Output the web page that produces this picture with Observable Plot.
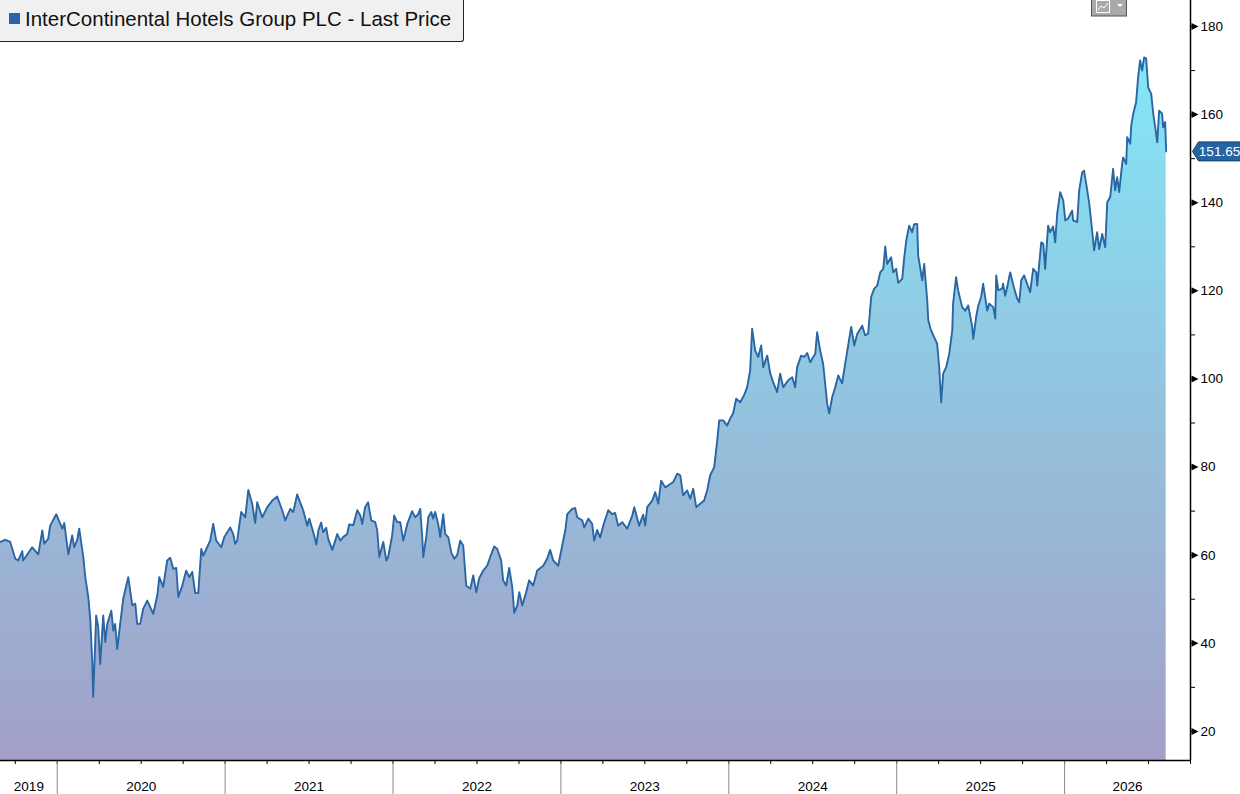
<!DOCTYPE html>
<html><head><meta charset="utf-8">
<script src="https://cdn.jsdelivr.net/npm/d3@7"></script>
<script src="https://cdn.jsdelivr.net/npm/@observablehq/plot@0.6"></script>
<style>
html,body{margin:0;padding:0;background:#fff;}
#wrap{position:relative;width:1240px;height:794px;overflow:hidden;}
#legend{position:absolute;left:0;top:0;width:464px;height:42px;box-sizing:border-box;background:#f0f0f0;border-right:1px solid #222;border-bottom:1px solid #222;border-bottom-right-radius:3px;}
#legend .sw{position:absolute;left:9px;top:13px;width:11px;height:11px;background:#2b64a6;}
#legend .tx{position:absolute;left:25px;top:9px;font-family:"Liberation Sans",Arial,sans-serif;font-size:20.5px;line-height:20.5px;color:#111;white-space:nowrap;}
#btn{position:absolute;left:1091px;top:-1px;}
</style></head><body>
<div id="wrap"></div>
<script>
// ---- data (decimal year, last price) ----
const dates = [
2019.661,2019.690,2019.720,2019.750,2019.768,2019.792,2019.797,2019.851,2019.887,2019.911,2019.923,2019.946,2019.958,2019.994,
2020.030,2020.042,2020.066,2020.089,2020.101,2020.119,2020.131,2020.155,2020.167,2020.185,2020.197,2020.208,2020.214,2020.232,
2020.244,2020.256,2020.274,2020.286,2020.298,2020.322,2020.334,2020.345,2020.357,2020.375,2020.393,2020.423,2020.447,2020.465,
2020.476,2020.494,2020.512,2020.536,2020.554,2020.572,2020.596,2020.608,2020.631,2020.655,2020.673,2020.691,2020.709,2020.721,
2020.745,2020.768,2020.786,2020.804,2020.822,2020.840,2020.858,2020.870,2020.893,2020.911,2020.929,2020.947,2020.977,2020.995,
2021.030,2021.048,2021.060,2021.072,2021.084,2021.096,2021.120,2021.138,2021.161,2021.179,2021.191,2021.221,2021.251,2021.281,
2021.310,2021.340,2021.358,2021.388,2021.406,2021.429,2021.447,2021.465,2021.489,2021.501,2021.525,2021.543,2021.555,2021.572,
2021.584,2021.602,2021.614,2021.638,2021.656,2021.668,2021.686,2021.703,2021.727,2021.739,2021.763,2021.787,2021.805,2021.817,
2021.834,2021.852,2021.870,2021.894,2021.906,2021.918,2021.942,2021.960,2021.971,2021.995,2022.007,2022.025,2022.043,2022.061,
2022.085,2022.114,2022.132,2022.150,2022.162,2022.174,2022.180,2022.198,2022.210,2022.228,2022.239,2022.251,2022.269,2022.281,
2022.299,2022.311,2022.329,2022.347,2022.365,2022.382,2022.400,2022.418,2022.436,2022.460,2022.478,2022.496,2022.513,2022.537,
2022.561,2022.579,2022.603,2022.621,2022.644,2022.656,2022.674,2022.692,2022.710,2022.722,2022.740,2022.752,2022.770,2022.793,
2022.811,2022.835,2022.859,2022.895,2022.918,2022.936,2022.954,2022.984,2023.008,2023.026,2023.038,2023.067,2023.085,2023.097,
2023.127,2023.139,2023.163,2023.186,2023.198,2023.216,2023.234,2023.252,2023.282,2023.306,2023.323,2023.341,2023.365,2023.395,
2023.425,2023.437,2023.466,2023.490,2023.502,2023.514,2023.544,2023.562,2023.580,2023.597,2023.621,2023.639,2023.669,2023.693,
2023.711,2023.728,2023.752,2023.770,2023.788,2023.806,2023.830,2023.853,2023.871,2023.889,2023.913,2023.931,2023.943,2023.967,
2023.990,2024.008,2024.026,2024.044,2024.068,2024.091,2024.109,2024.127,2024.139,2024.157,2024.175,2024.193,2024.205,2024.229,
2024.247,2024.264,2024.288,2024.306,2024.324,2024.354,2024.378,2024.395,2024.407,2024.431,2024.449,2024.467,2024.485,2024.503,
2024.515,2024.526,2024.544,2024.562,2024.586,2024.598,2024.616,2024.634,2024.652,2024.675,2024.693,2024.711,2024.729,2024.747,
2024.765,2024.795,2024.812,2024.830,2024.848,2024.866,2024.884,2024.902,2024.920,2024.932,2024.943,2024.967,2024.979,2024.997,
2025.009,2025.033,2025.045,2025.057,2025.074,2025.092,2025.104,2025.122,2025.128,2025.152,2025.164,2025.182,2025.188,2025.205,
2025.223,2025.241,2025.253,2025.265,2025.277,2025.295,2025.313,2025.331,2025.336,2025.354,2025.366,2025.390,2025.408,2025.426,
2025.450,2025.456,2025.473,2025.485,2025.503,2025.515,2025.539,2025.551,2025.575,2025.587,2025.593,2025.605,2025.628,2025.634,
2025.646,2025.658,2025.676,2025.700,2025.718,2025.730,2025.742,2025.759,2025.777,2025.795,2025.813,2025.831,2025.837,2025.861,
2025.873,2025.884,2025.902,2025.914,2025.932,2025.944,2025.956,2025.974,2025.992,2026.004,2026.021,2026.045,2026.051,2026.075,
2026.087,2026.105,2026.116,2026.135,2026.147,2026.164,2026.176,2026.194,2026.206,2026.224,2026.242,2026.254,2026.272,2026.289,
2026.301,2026.313,2026.325,2026.343,2026.349,2026.367,2026.373,2026.391,2026.397,2026.409,2026.426,2026.438,2026.450,2026.462,
2026.474,2026.486,2026.498,2026.516,2026.528,2026.540,2026.552,2026.563,2026.581,2026.587,2026.599,2026.605
];
const prices = [
63.0,63.5,63.0,59.2,58.8,60.9,58.8,61.8,60.2,65.6,62.6,63.7,66.7,69.3,
66.0,67.3,60.2,64.5,61.8,63.5,66.0,59.6,55.0,50.5,45.2,36.1,27.8,46.3,
43.7,35.3,46.3,40.3,44.4,47.4,42.9,44.4,38.7,44.4,50.1,55.0,48.6,49.0,
44.4,44.4,47.8,49.7,48.2,46.7,50.9,55.0,52.8,58.8,59.4,56.9,57.1,50.5,
53.1,56.5,55.0,56.2,51.4,51.4,61.4,59.9,61.8,63.3,67.1,63.3,61.8,64.1,
66.3,64.8,62.6,63.3,66.7,69.8,68.6,74.8,71.7,67.3,72.0,68.6,70.9,72.4,
73.3,70.2,67.9,70.5,69.8,73.8,72.0,70.2,66.7,68.3,65.2,62.4,65.6,67.4,
65.2,66.2,63.7,61.2,63.3,64.8,63.3,64.1,64.8,67.0,66.8,70.2,69.0,67.1,
70.9,72.0,67.9,67.5,65.6,59.6,63.0,58.8,59.6,64.5,69.0,67.5,67.5,63.3,
67.1,70.0,68.6,69.3,70.5,64.1,59.6,64.1,68.6,69.8,68.3,69.8,67.1,64.1,
69.3,64.8,64.1,60.6,59.2,60.0,63.3,62.2,53.1,52.4,55.4,51.6,54.7,56.5,
57.6,59.6,62.0,61.4,58.8,54.3,53.1,57.1,52.8,46.9,48.6,51.6,48.6,51.6,
54.3,53.1,56.5,57.6,59.2,61.2,58.8,57.6,62.2,65.6,69.3,70.5,70.7,68.6,
67.9,66.3,68.3,67.1,63.3,65.7,64.0,66.7,70.2,69.3,69.6,66.7,67.5,66.0,
69.0,70.9,66.7,69.2,66.7,70.9,72.4,74.3,71.7,76.9,75.4,75.8,76.6,78.5,
78.1,73.6,74.7,72.8,75.1,70.9,71.7,72.4,74.7,78.1,80.0,86.0,90.6,90.6,
89.4,91.0,92.2,95.5,94.7,96.3,98.1,101.9,111.4,106.5,105.0,107.6,102.7,105.3,
101.2,99.3,97.0,101.2,98.1,99.7,100.4,98.1,102.7,105.3,105.0,105.9,103.8,105.0,
105.7,110.6,106.5,103.4,94.4,92.2,95.9,98.1,100.8,99.0,103.4,107.6,111.8,107.6,
110.2,112.1,109.9,110.3,118.6,120.5,121.2,124.2,125.0,130.1,126.1,127.6,124.2,125.0,
121.8,122.7,127.6,131.4,134.8,133.3,135.1,135.2,128.0,122.4,126.1,117.8,113.3,111.0,
109.5,108.0,102.7,94.7,101.2,102.7,105.7,111.0,117.1,123.1,120.1,116.3,115.5,116.7,
111.8,109.1,114.0,116.5,118.6,121.6,115.5,117.1,116.3,113.7,123.5,120.1,120.5,121.6,
118.9,120.8,124.2,120.5,118.2,117.4,122.4,123.5,121.6,119.7,125.0,124.2,121.2,131.0,
130.7,125.0,134.8,133.3,134.6,131.0,137.5,142.4,140.5,136.0,136.4,138.2,136.0,135.6,
142.8,146.9,147.3,142.8,139.8,133.7,129.2,133.3,129.5,132.9,129.9,140.1,141.3,147.7,
142.8,145.8,142.4,148.8,150.3,148.8,154.9,153.4,157.5,160.2,162.8,168.5,172.3,170.0,
173.0,172.7,166.2,164.7,160.2,157.1,153.7,160.9,160.2,157.1,158.3,151.65
];
const seriesName = "InterContinental Hotels Group PLC - Last Price";
const yMajorTicks = [20, 40, 60, 80, 100, 120, 140, 160, 180];
const yMinorTicks = [20, 30, 40, 50, 60, 70, 80, 90, 100, 110, 120, 130, 140, 150, 160, 170, 180];
const yearLabels = ["2019", "2020", "2021", "2022", "2023", "2024", "2025", "2026"];
const yearStarts = [2020, 2021, 2022, 2023, 2024, 2025, 2026];
const xDomain = [2019.662, 2026.75];
const yDomain = [13.4, 185.9];

const data = dates.map((t, i) => ({t, v: prices[i]}));
const quarterTicks = [];
for (let y = 2019; y <= 2026; y++) for (let q = 0; q < 4; q++) {
  const t = y + q / 4;
  if (t > xDomain[0] && t <= xDomain[1]) quarterTicks.push(t);
}
const labelPos = yearLabels.map(s => {
  const y = +s;
  const a = Math.max(y, xDomain[0]), b = Math.min(y + 1, xDomain[1]);
  return (a + b) / 2;
});
const labelByPos = new Map(labelPos.map((p, i) => [p, yearLabels[i]]));
const last = [{t: xDomain[1], v: prices[prices.length - 1]}];

const triRight = {draw(ctx) { ctx.moveTo(1, -3.5); ctx.lineTo(8, 0); ctx.lineTo(1, 3.5); ctx.closePath(); }};
const tagShape = {draw(ctx) { ctx.moveTo(2, 0); ctx.lineTo(8, -9.5); ctx.lineTo(52, -9.5); ctx.lineTo(52, 9.5); ctx.lineTo(8, 9.5); ctx.closePath(); }};

const chart = Plot.plot({
  width: 1240, height: 794,
  marginLeft: 0, marginRight: 50, marginTop: 0, marginBottom: 34,
  x: {type: "linear", domain: xDomain},
  y: {domain: yDomain},
  style: {fontFamily: "'Liberation Sans', Arial, sans-serif", fontSize: "13px", color: "#000", background: "transparent", overflow: "visible"},
  marks: [
    () => {
      const defs = d3.create("svg:defs");
      const lg = defs.append("linearGradient").attr("id", "priceFill")
        .attr("x1", 0).attr("y1", 0).attr("x2", 0).attr("y2", 1);
      lg.append("stop").attr("offset", "0%").attr("stop-color", "#83e7f8");
      lg.append("stop").attr("offset", "45%").attr("stop-color", "#92c6e0");
      lg.append("stop").attr("offset", "100%").attr("stop-color", "#a39fc8");
      return defs.node();
    },
    Plot.areaY(data, {x: "t", y1: yDomain[0], y2: "v", fill: "url(#priceFill)"}),
    Plot.lineY(data, {x: "t", y: "v", stroke: "#2a66a4", strokeWidth: 1.9}),
    Plot.axisX(quarterTicks, {anchor: "bottom", tickSize: 4, tickFormat: () => "", label: null, stroke: "#000"}),
    Plot.axisX(yearStarts, {anchor: "bottom", tickSize: 34, tickFormat: () => "", label: null, stroke: "#8a8a8a"}),
    Plot.axisX(labelPos, {anchor: "bottom", tickSize: 0, tickPadding: 21, tickFormat: d => labelByPos.get(d), label: null, fill: "#000", fontSize: 13.5}),
    Plot.ruleY([yDomain[0]], {stroke: "#000", strokeWidth: 1.5}),
    Plot.ruleX([xDomain[1]], {stroke: "#000", strokeWidth: 1.5}),
    Plot.axisY(yMinorTicks, {anchor: "right", tickSize: 4, tickFormat: () => "", label: null, stroke: "#000"}),
    Plot.axisY(yMajorTicks, {anchor: "right", tickSize: 0, tickPadding: 10, label: null, fill: "#000", fontSize: 13.5}),
    Plot.dot(yMajorTicks, {x: () => xDomain[1], y: d => d, symbol: triRight, fill: "#000", stroke: "none"}),
    Plot.dot(last, {x: "t", y: "v", symbol: tagShape, fill: "#2563a2", stroke: "#173f6c", strokeWidth: 1}),
    Plot.text(last, {x: "t", y: "v", text: d => d.v.toFixed(2), dx: 29, fill: "#fff", fontSize: 13.5, textAnchor: "middle"})
  ]
});

const wrap = document.getElementById("wrap");
wrap.appendChild(chart);

const legend = document.createElement("div");
legend.id = "legend";
legend.innerHTML = '<span class="sw"></span><span class="tx"></span>';
legend.querySelector(".tx").textContent = seriesName;
wrap.appendChild(legend);

const btn = document.createElement("div");
btn.id = "btn";
btn.innerHTML = '<svg width="36" height="18" xmlns="http://www.w3.org/2000/svg">' +
  '<rect x="0.5" y="0.5" width="35" height="16.5" fill="#a9a9a9" stroke="#555"/>' +
  '<rect x="5.5" y="1.5" width="13" height="12" fill="none" stroke="#fff"/>' +
  '<polyline points="7,11 10,7 13,9 17,4" fill="none" stroke="#fff" stroke-width="1"/>' +
  '<path d="M26,5 L32,5 L29,8 Z" fill="#fff"/></svg>';
wrap.appendChild(btn);
</script>
</body></html>
